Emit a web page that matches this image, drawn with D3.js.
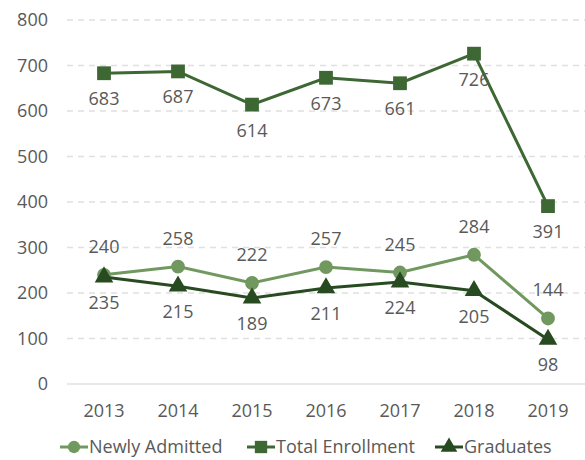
<!DOCTYPE html>
<html><head><meta charset="utf-8">
<script src="https://cdn.jsdelivr.net/npm/d3@7"></script>
<style>body{margin:0;background:#fff}svg{display:block;font-family:"Open Sans",sans-serif}</style>
</head><body><svg id="c" width="585" height="460"></svg>
<script>
const years = ["2013","2014","2015","2016","2017","2018","2019"];
const newlyAdmitted = [240,258,222,257,245,284,144];
const totalEnrollment = [683,687,614,673,661,726,391];
const graduates = [235,215,189,211,224,205,98];
const yTicks = [0,100,200,300,400,500,600,700,800];
const seriesNames = ["Newly Admitted","Total Enrollment","Graduates"];

const svg = d3.select("#c");
const x = d3.scaleBand().domain(years).range([67,585]);
const y = d3.scaleLinear().domain([0,800]).range([384,20]);
const cx = d => x(d)+x.bandwidth()/2;
const txt = "#595959";
const fs = 18;

svg.append("g").selectAll("line").data(yTicks).join("line")
  .attr("x1",67).attr("x2",585).attr("y1",d=>y(d)).attr("y2",d=>y(d))
  .attr("stroke","#e0e0e0").attr("stroke-width",1.3)
  .attr("stroke-dasharray",d=>d===0?null:"6,5");
svg.append("g").selectAll("text").data(yTicks).join("text")
  .attr("x",48).attr("y",d=>y(d)).attr("dy","0.35em").attr("text-anchor","end")
  .attr("font-size",fs).attr("fill",txt).text(d=>d);
svg.append("g").selectAll("text").data(years).join("text")
  .attr("x",d=>cx(d)).attr("y",417).attr("text-anchor","middle")
  .attr("font-size",fs).attr("fill",txt).text(d=>d);

const series = [
  {name:seriesNames[0], vals:newlyAdmitted, color:"#71985f", sym:d3.symbolCircle, size:150, pos:-1},
  {name:seriesNames[1], vals:totalEnrollment, color:"#3e6833", sym:d3.symbolSquare, size:190, pos:1},
  {name:seriesNames[2], vals:graduates, color:"#284a21", sym:d3.symbolTriangle, size:150, pos:1}
];
const line = d3.line().x((d,i)=>cx(years[i])).y(d=>y(d));
series.forEach(s=>{
  const g = svg.append("g");
  g.append("path").datum(s.vals).attr("d",line).attr("fill","none")
    .attr("stroke",s.color).attr("stroke-width",3);
  g.selectAll("path.m").data(s.vals).join("path").attr("class","m")
    .attr("d",d3.symbol().type(s.sym).size(s.size))
    .attr("transform",(d,i)=>`translate(${cx(years[i])},${y(d)})`)
    .attr("fill",s.color);
  g.selectAll("text").data(s.vals).join("text")
    .attr("x",(d,i)=>cx(years[i])).attr("y",d=>y(d)+(s.pos>0?32:-22))
    .attr("text-anchor","middle").attr("font-size",fs).attr("fill",txt).text(d=>d);
});

const legX = [60,247,435];
series.forEach((s,i)=>{
  const g = svg.append("g").attr("transform",`translate(${legX[i]},447)`);
  g.append("line").attr("x1",0).attr("x2",28).attr("stroke",s.color).attr("stroke-width",3);
  g.append("path").attr("d",d3.symbol().type(s.sym).size(s.size*0.8)).attr("transform","translate(14,0)").attr("fill",s.color);
  g.append("text").attr("x",29).attr("dy","0.35em").attr("font-size",fs).attr("fill",txt).text(s.name);
});
</script></body></html>
